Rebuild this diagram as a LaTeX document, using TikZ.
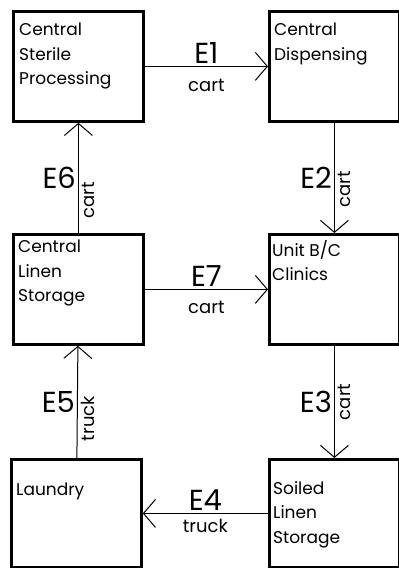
\documentclass[tikz,border=0pt]{standalone}
\usepackage{fontspec}
\setmainfont{Poppins}
\usepackage{tikz}
\usetikzlibrary{positioning, arrows.meta}

\begin{document}
\begin{tikzpicture}[
  x=1pt, y=-1pt,
  station/.style={rectangle, draw, line width=2.8pt, minimum width=130pt, minimum height=110pt, anchor=north west},
  inside/.style={anchor=north west, align=left, inner sep=0pt, font=\fontsize{17}{24.5}\selectfont},
  flow/.style={-{Straight Barb[length=12pt, width=28pt]}, line width=1pt},
  edgename/.style={font=\fontsize{29}{29}\selectfont, inner sep=2pt},
  mode/.style={font=\fontsize{18}{18}\selectfont, inner sep=6pt}
]
\useasboundingbox (0,0) rectangle (399,568);

% Top row
\node[station] (csp) at (12,10) {};
\node[inside] at (19,23) {Central\\Sterile\\Processing};
\node[station] (cd) at (268,10) {};
\node[inside] at (274,23) {Central\\Dispensing};

% Middle row
\node[station] (cls) at (12,233) {};
\node[inside] at (18,240) {Central\\Linen\\Storage};
\node[station] (unit) at (268,233) {};
\node[inside] at (272,240) {Unit B/C\\Clinics};

% Bottom row
\node[station, minimum height=108pt] (laundry) at (10,458) {};
\node[inside] at (16,483) {Laundry};
\node[station, minimum height=108pt] (soiled) at (268,458) {};
\node[inside] at (273,481) {Soiled\\Linen\\Storage};

% Edges
\draw[flow] (csp) -- node[edgename, above] {E1} node[mode, below, inner sep=12pt] {cart} (cd);
\draw[flow] (cd) -- node[edgename, left] {E2} node[mode, pos=0.6, rotate=90, anchor=north, inner sep=3pt] {cart} (unit);
\draw[flow] (unit) -- node[edgename, left] {E3} node[mode, pos=0.5, rotate=90, anchor=north, inner sep=3pt] {cart} (soiled);
\draw[flow] (soiled) -- node[edgename, above] {E4} node[mode, below, inner sep=5pt] {truck} (laundry);
\draw[flow] (laundry) -- node[edgename, left] {E5} node[mode, pos=0.35, rotate=90, anchor=north, inner sep=3pt] {truck} (cls);
\draw[flow] (cls) -- node[edgename, left] {E6} node[mode, pos=0.3, rotate=90, anchor=north, inner sep=3pt] {cart} (csp);
\draw[flow] (cls) -- node[edgename, above] {E7} node[mode, below, inner sep=11pt] {cart} (unit);

\end{tikzpicture}
\end{document}
